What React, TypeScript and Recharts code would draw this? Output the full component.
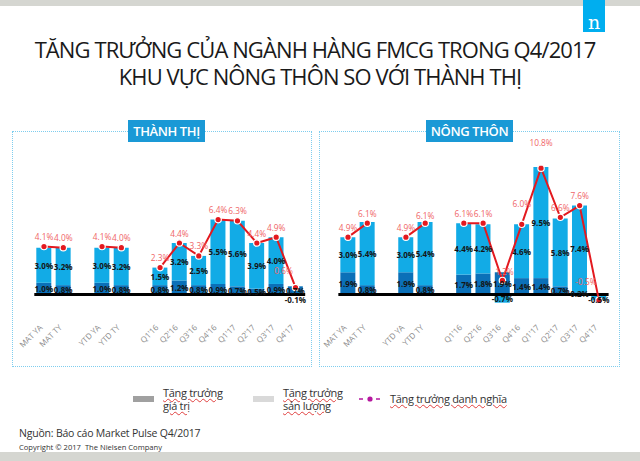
import React from 'react';
import {
  ComposedChart,
  Bar,
  Line,
  XAxis,
  YAxis,
  ReferenceLine,
  LabelList,
} from 'recharts';

// Categories (empty strings are the spacer slots between groups)
const categories = [
  'MAT YA', 'MAT TY', '', 'YTD YA', 'YTD TY', '',
  "Q1'16", "Q2'16", "Q3'16", "Q4'16", "Q1'17", "Q2'17", "Q3'17", "Q4'17",
];

// Thành thị (urban)
const urbanPrice = [1.0, 0.8, null, 1.0, 0.8, null, 0.8, 1.2, 0.8, 0.9, 0.7, 0.5, 0.9, 0.7];
const urbanVolume = [3.0, 3.2, null, 3.0, 3.2, null, 1.5, 3.2, 2.5, 5.5, 5.6, 3.9, 4.0, -0.1];
const urbanNominal = [4.1, 4.0, null, 4.1, 4.0, null, 2.3, 4.4, 3.3, 6.4, 6.3, 4.4, 4.9, 0.6];

// Nông thôn (rural)
const ruralPrice = [1.9, 0.8, null, 1.9, 0.8, null, 1.7, 1.8, 1.9, 1.4, 1.4, 0.7, 0.2, 0.0];
const ruralVolume = [3.0, 5.4, null, 3.0, 5.4, null, 4.4, 4.2, -0.7, 4.6, 9.5, 5.8, 7.4, -0.5];
const ruralNominal = [4.9, 6.1, null, 4.9, 6.1, null, 6.1, 6.1, 1.2, 6.0, 10.8, 6.6, 7.6, -0.5];

const buildData = (price: (number | null)[], volume: (number | null)[], nominal: (number | null)[]) =>
  categories.map((name, i) => ({
    name,
    priceGrowth: price[i],
    volumeGrowth: volume[i],
    nominalGrowth: nominal[i],
  }));

const urbanData = buildData(urbanPrice, urbanVolume, urbanNominal);
const ruralData = buildData(ruralPrice, ruralVolume, ruralNominal);

const FONT = '"Open Sans", "Noto Sans", sans-serif';
const LIGHT_BLUE = '#12abe6';
const DARK_BLUE = '#0b70b8';
const RED = '#e3191f';

// label nudges for the nominal line where the original moves them
const urbanShifts: Record<number, [number, number]> = {
  13: [-12, -17],
};
const ruralShifts: Record<number, [number, number]> = {
  4: [0, -8],
  8: [2, -9],
  9: [0, -21],
  10: [0, -26],
  13: [-13, -19],
};

const AngledTick = (props: any) => {
  const { x, y, payload } = props;
  return (
    <text
      transform={`translate(${x - 1},${y + 14}) rotate(-45)`}
      textAnchor="end"
      fill="#8a8a8a"
      fontSize={8}
      fontFamily={FONT}
    >
      {payload.value}
    </text>
  );
};

const barLabel = (props: any) => {
  const { x, y, width, height, value } = props;
  if (value == null) return null;
  let cy = y + height / 2;
  // very thin negative segments: the original drops the text just under the axis
  if (value < 0 && Math.abs(height) < 6) cy = Math.min(y, y + height) + 5;
  return (
    <text
      x={x + width / 2}
      y={cy}
      textAnchor="middle"
      dominantBaseline="central"
      fontSize={8}
      fontWeight={700}
      fill="#151515"
      fontFamily={FONT}
    >
      {Number(value).toFixed(1)}%
    </text>
  );
};

const nominalLabel = (shifts: Record<number, [number, number]>) => (props: any) => {
  const { x, y, value, index } = props;
  if (value == null) return null;
  const [dx, dy] = shifts[index] ?? [0, -10];
  return (
    <text
      x={x + dx}
      y={y + dy}
      textAnchor="middle"
      dominantBaseline="central"
      fontSize={8.3}
      fill="#ef6466"
      fontFamily={FONT}
    >
      {Number(value).toFixed(1)}%
    </text>
  );
};

interface PanelProps {
  data: any[];
  left: number;
  marginLeft: number;
  marginRight: number;
  shifts: Record<number, [number, number]>;
}

const Panel: React.FC<PanelProps> = ({ data, left, marginLeft, marginRight, shifts }) => (
  <div style={{ position: 'absolute', left, top: 120, width: 320, height: 240 }}>
    <ComposedChart
      width={320}
      height={240}
      data={data}
      stackOffset="sign"
      margin={{ top: 45.8, right: marginRight, bottom: 0, left: marginLeft }}
    >
      <XAxis
        dataKey="name"
        axisLine={false}
        tickLine={false}
        tickSize={0}
        interval={0}
        height={47.95}
        tick={<AngledTick />}
      />
      <YAxis hide type="number" domain={[-1.5, 11]} allowDataOverflow />
      <Bar dataKey="priceGrowth" stackId="g" fill={DARK_BLUE} barSize={15} isAnimationActive={false}>
        <LabelList dataKey="priceGrowth" content={barLabel} />
      </Bar>
      <Bar dataKey="volumeGrowth" stackId="g" fill={LIGHT_BLUE} barSize={15} isAnimationActive={false}>
        <LabelList dataKey="volumeGrowth" content={barLabel} />
      </Bar>
      <ReferenceLine y={0} stroke="#000" strokeWidth={3} />
      <Line
        dataKey="nominalGrowth"
        stroke={RED}
        strokeWidth={2}
        dot={{ r: 3.2, fill: RED, stroke: '#fff', strokeWidth: 1.2 }}
        activeDot={false}
        isAnimationActive={false}
      >
        <LabelList dataKey="nominalGrowth" content={nominalLabel(shifts)} />
      </Line>
    </ComposedChart>
  </div>
);

const tagStyle: React.CSSProperties = {
  position: 'absolute',
  top: 120,
  height: 22,
  background: '#1a99d6',
  color: '#fff',
  fontFamily: FONT,
  fontWeight: 600,
  fontSize: 13,
  letterSpacing: -0.4,
  lineHeight: '22px',
  textAlign: 'center',
};

const boxStyle: React.CSSProperties = {
  position: 'absolute',
  top: 131,
  height: 236,
  border: '1px dotted #7fcdee',
  boxSizing: 'border-box',
};

const legendText: React.CSSProperties = {
  position: 'absolute',
  fontFamily: FONT,
  fontSize: 11,
  lineHeight: '13px',
  color: '#333',
  letterSpacing: -0.3,
  textDecoration: 'underline wavy #e0403f',
  textDecorationThickness: '1px',
  whiteSpace: 'nowrap',
};

export default function App() {
  return (
    <div style={{ position: 'absolute', left: 0, top: 0, width: 640, height: 461, background: '#fff', overflow: 'hidden' }}>
      <svg width={640} height={461} style={{ position: 'absolute', left: 0, top: 0 }}>
        <rect x={0} y={0} width={640} height={6} fill="#d5d6d1" />
        <rect x={0} y={452} width={640} height={9} fill="#d5d6d1" />
        <rect x={583} y={0} width={22} height={32} fill="#00aeef" />
        <text x={594} y={29} textAnchor="middle" fill="#fff" fontSize={19} fontFamily='"DejaVu Serif", serif'>n</text>
        <text x={315} y={58} textAnchor="middle" fill="#1a1a1a" fontSize={22} letterSpacing={-0.9} fontFamily={FONT}>
          TĂNG TRƯỞNG CỦA NGÀNH HÀNG FMCG TRONG Q4/2017
        </text>
        <text x={320} y={85} textAnchor="middle" fill="#1a1a1a" fontSize={22} letterSpacing={-0.9} fontFamily={FONT}>
          KHU VỰC NÔNG THÔN SO VỚI THÀNH THỊ
        </text>
        {/* legend swatches */}
        <rect x={133} y={396} width={21} height={6} fill="#a0a0a0" />
        <rect x={253} y={396} width={21} height={6} fill="#d9d9d9" />
        <line x1={359} y1={399} x2={363} y2={399} stroke="#b5179e" strokeWidth={1.5} />
        <circle cx={370} cy={399} r={2.6} fill="#b5179e" />
        <line x1={376} y1={399} x2={380} y2={399} stroke="#b5179e" strokeWidth={1.5} />
      </svg>

      <div style={{ ...boxStyle, left: 12, width: 300 }} />
      <div style={{ ...boxStyle, left: 319, width: 301 }} />

      <Panel data={urbanData} left={0} marginLeft={34.3} marginRight={14.8} shifts={urbanShifts} />
      <Panel data={ruralData} left={320} marginLeft={18.35} marginRight={31.4} shifts={ruralShifts} />

      <div style={{ ...tagStyle, left: 128, width: 77 }}>THÀNH THỊ</div>
      <div style={{ ...tagStyle, left: 426, width: 87 }}>NÔNG THÔN</div>

      <div style={{ ...legendText, left: 163, top: 386 }}>Tăng trưởng<br />giá trị</div>
      <div style={{ ...legendText, left: 283, top: 386 }}>Tăng trưởng<br />sản lượng</div>
      <div style={{ ...legendText, left: 390, top: 392 }}>Tăng trưởng danh nghĩa</div>

      <div style={{ position: 'absolute', left: 19, top: 426, fontFamily: FONT, fontSize: 10.5, letterSpacing: -0.2, color: '#333', whiteSpace: 'nowrap' }}>
        Nguồn: Báo cáo Market Pulse Q4/2017
      </div>
      <div style={{ position: 'absolute', left: 19, top: 442, fontFamily: FONT, fontSize: 7.6, color: '#333', whiteSpace: 'nowrap' }}>
        Copyright © 2017&nbsp; The Nielsen Company
      </div>
    </div>
  );
}
